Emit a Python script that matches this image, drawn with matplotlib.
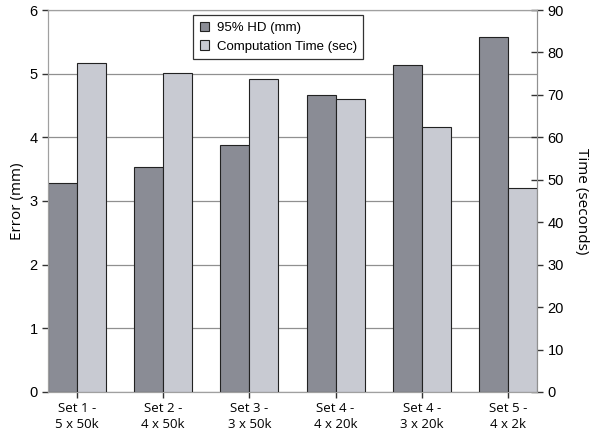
import numpy as np
import matplotlib
matplotlib.use('Agg')
import matplotlib.pyplot as plt

# dados
conjuntos = ['Set 1 -\n5 x 50k', 'Set 2 -\n4 x 50k', 'Set 3 -\n3 x 50k',
             'Set 4 -\n4 x 20k', 'Set 4 -\n3 x 20k', 'Set 5 -\n4 x 2k']
erro_hd = [3.29, 3.53, 3.88, 4.67, 5.13, 5.57]
tempo = [77.4, 75.1, 73.8, 69.0, 62.4, 48.0]

cor_escura = '#8a8c95'
cor_clara = '#c8cad2'
cor_spine = '#a0a0a0'

plt.rcParams['font.family'] = ['Liberation Sans', 'DejaVu Sans']

fig, ax = plt.subplots(figsize=(6, 4.36), dpi=100)
fig.subplots_adjust(left=0.08, right=0.895, top=0.977, bottom=0.101)
ax2 = ax.twinx()

x = np.arange(len(conjuntos))
w = 0.336

b1 = ax.bar(x - w / 2, erro_hd, w, color=cor_escura, edgecolor='#222222',
            linewidth=0.8, label='95% HD (mm)', zorder=3)
b2 = ax2.bar(x + w / 2, tempo, w, color=cor_clara, edgecolor='#222222',
             linewidth=0.8, label='Computation Time (sec)', zorder=3)

ax.set_xlim(-w, len(conjuntos) - 1 + w)
ax.set_ylim(0, 6)
ax2.set_ylim(0, 90)
ax.set_yticks(range(0, 7))
ax2.set_yticks(range(0, 91, 10))
ax.set_xticks(x)
ax.set_xticklabels(conjuntos, fontsize=9.5, family=['Open Sans', 'DejaVu Sans'],
                   linespacing=1.3)

ax.yaxis.grid(True, color='#909090', linewidth=0.9, zorder=0)
ax.set_axisbelow(True)

for a in (ax, ax2):
    for s in a.spines.values():
        s.set_color(cor_spine)
ax2.spines['right'].set_color('#909090')

ax.tick_params(axis='y', labelsize=10.5, length=4, width=1, color='#333333')
ax2.tick_params(axis='y', labelsize=10.5, direction='inout', length=8, width=1,
                color='#333333')
ax.tick_params(axis='x', direction='inout', length=8, width=1, color='#333333',
               pad=3)

ax.set_ylabel('Error (mm)', fontsize=11, family=['Open Sans', 'DejaVu Sans'],
              labelpad=3)
ax2.set_ylabel('Time (seconds)', fontsize=11, family=['Open Sans', 'DejaVu Sans'],
               rotation=270, labelpad=18)

leg = ax2.legend([b1, b2], ['95% HD (mm)', 'Computation Time (sec)'],
                 loc='upper left', bbox_to_anchor=(0.2965, 0.987), borderaxespad=0,
                 fontsize=9.5, fancybox=False, framealpha=1, edgecolor='#333333',
                 handlelength=0.7, handleheight=0.7, handletextpad=0.6,
                 borderpad=0.5, labelspacing=0.5)
leg.get_frame().set_linewidth(0.9)

fig.savefig('out.png', dpi=100)
